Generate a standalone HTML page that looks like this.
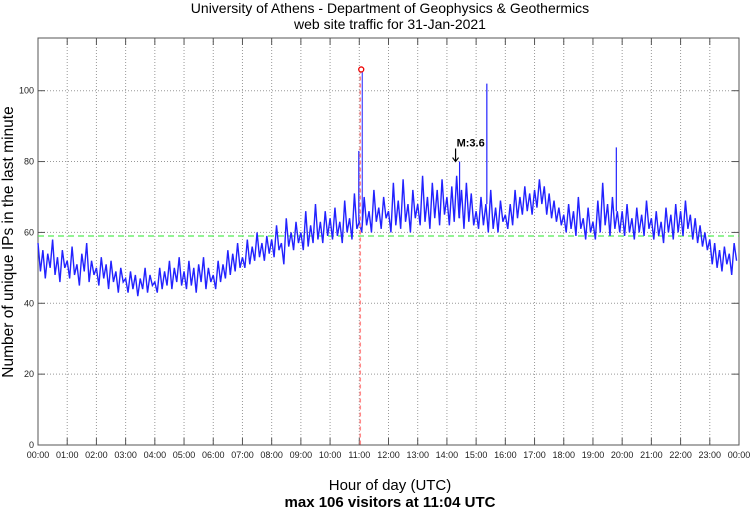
<!DOCTYPE html>
<html><head><meta charset="utf-8"><style>
body{margin:0;background:#fff;font-family:"Liberation Sans",sans-serif}
svg{display:block}
</style></head><body>
<svg id="chart" width="750" height="511" viewBox="0 0 750 511" font-family="Liberation Sans, sans-serif">
<text x="390" y="13" font-size="14" text-anchor="middle">University of Athens - Department of Geophysics &amp; Geothermics</text>
<text x="390" y="29" font-size="14" text-anchor="middle">web site traffic for 31-Jan-2021</text>
<text transform="translate(13,242) rotate(-90)" font-size="15.5" text-anchor="middle">Number of unique IPs in the last minute</text>
<text x="390" y="490" font-size="15" text-anchor="middle">Hour of day (UTC)</text>
<text x="390" y="507" font-size="15" font-weight="bold" text-anchor="middle">max 106 visitors at 11:04 UTC</text>
<g id="grid"></g><g id="axes"></g><g id="series"></g><g id="marks"></g>
</svg>
<script>
const hourLabels=["00:00","01:00","02:00","03:00","04:00","05:00","06:00","07:00","08:00","09:00","10:00","11:00","12:00","13:00","14:00","15:00","16:00","17:00","18:00","19:00","20:00","21:00","22:00","23:00","00:00"];
const yTicks=[0,20,40,60,80,100];
const avgLevel=59;
const maxMinute=664, maxValue=106;
const quakeMinute=866, quakeValue=80, quakeLabel="M:3.6";
const spikeMinutes=[659,922,1188,866];
const spikeValues=[83,102,84,80];
const values=[
57,49,55,47,54,50,58,48,53,46,55,50,
52,47,56,48,51,45,54,49,57,46,52,48,
50,45,53,47,51,44,52,46,49,43,50,46,
47,43,49,44,48,42,47,44,50,43,48,45,
46,43,50,44,49,45,52,44,50,46,53,45,
49,44,52,45,50,43,51,46,53,44,50,46,
48,44,52,46,51,47,55,48,54,49,57,50,
53,50,58,51,56,52,60,53,57,52,59,54,
58,53,62,55,57,51,64,56,60,55,63,57,
60,55,66,56,62,57,68,58,63,57,66,59,
64,58,67,59,63,57,69,60,64,58,71,61,
63,60,70,62,66,60,72,63,67,61,70,64,
66,60,74,62,69,61,75,63,68,60,72,64,
68,62,76,63,70,61,74,64,72,62,75,65,
70,62,73,63,76,64,72,61,74,63,71,62,
66,61,70,62,68,60,72,61,67,60,69,63,
65,61,68,62,72,64,70,65,73,66,71,65,
72,67,75,68,73,65,71,64,69,63,67,62,
65,60,68,61,66,59,70,61,64,58,67,60,
63,58,69,60,74,62,68,59,70,61,66,60,
66,59,68,60,64,58,67,60,65,59,69,61,
64,58,66,59,63,57,67,60,65,58,68,60,
66,59,69,61,65,58,64,57,62,56,60,55,
58,51,57,50,55,49,56,51,54,48,57,52];
const L=38,R=739,T=38,B=445;
const x=m=>L+m/1440*(R-L);
const y=v=>B-v*(B-90.7)/100;
const NS="http://www.w3.org/2000/svg";
function mk(p,t,a){const e=document.createElementNS(NS,t);for(const k in a)e.setAttribute(k,a[k]);document.getElementById(p).appendChild(e);return e;}
let e;
e=mk("axes","rect",{x:L,y:T,width:R-L,height:B-T,fill:"none",stroke:"#555","stroke-width":1});


hourLabels.forEach((h,i)=>{const xx=x(i*60);
 if(i>0&&i<24){e=mk("grid","line",{x1:xx,x2:xx,y1:T,y2:B,stroke:"#999","stroke-dasharray":"1,2"});
 
 }
 mk("axes","line",{x1:xx,x2:xx,y1:B,y2:B-7,stroke:"#555"});
 mk("axes","line",{x1:xx,x2:xx,y1:T,y2:T+7,stroke:"#555"});
 e=mk("axes","text",{x:xx,y:B+13,"font-size":9,"text-anchor":"middle",fill:"#222"});e.textContent=h;
 
 });
yTicks.forEach(v=>{const yy=y(v);
 if(v>0){e=mk("grid","line",{x1:L,x2:R,y1:yy,y2:yy,stroke:"#999","stroke-dasharray":"1,2"});
 
 }
 mk("axes","line",{x1:L,x2:L+7,y1:yy,y2:yy,stroke:"#555"});
 mk("axes","line",{x1:R,x2:R-7,y1:yy,y2:yy,stroke:"#555"});
 e=mk("axes","text",{x:L-4,y:yy+3,"font-size":9,"text-anchor":"end",fill:"#222"});e.textContent=v;
 
 });
e=mk("series","line",{x1:L,x2:R,y1:y(avgLevel),y2:y(avgLevel),stroke:"#55ee55","stroke-width":1.3,"stroke-dasharray":"6,4"});


const step=1440/values.length;
e=mk("series","polyline",{points:values.map((v,i)=>x(i*step)+","+y(v)).join(" "),fill:"none",stroke:"#2222ff","stroke-width":1.4});


spikeMinutes.forEach((m,i)=>{const base=values[Math.min(values.length-1,Math.round(m/step))];
 e=mk("series","line",{x1:x(m),x2:x(m),y1:y(base),y2:y(spikeValues[i]),stroke:"#2222ff","stroke-width":1.2});
 
 });
e=mk("marks","line",{x1:x(maxMinute)-1,x2:x(maxMinute)-1,y1:y(maxValue),y2:B,stroke:"#ff8888","stroke-width":1.6,"stroke-dasharray":"4,3"});


e=mk("marks","line",{x1:x(maxMinute)+1,x2:x(maxMinute)+1,y1:y(maxValue),y2:y(62),stroke:"#2222ff","stroke-width":1});


e=mk("marks","circle",{cx:x(maxMinute),cy:y(maxValue),r:2.5,fill:"#fff",stroke:"#e00","stroke-width":1.3});


const qx=x(quakeMinute)-4, qy=y(quakeValue);
e=mk("marks","text",{x:qx+1,y:qy-15,"font-size":11,"font-weight":"bold"});e.textContent=quakeLabel;


e=mk("marks","path",{d:`M${qx},${qy-13}V${qy}M${qx-3},${qy-4}L${qx},${qy}L${qx+3},${qy-4}`,fill:"none",stroke:"#000","stroke-width":1.2});


</script>
</body></html>
